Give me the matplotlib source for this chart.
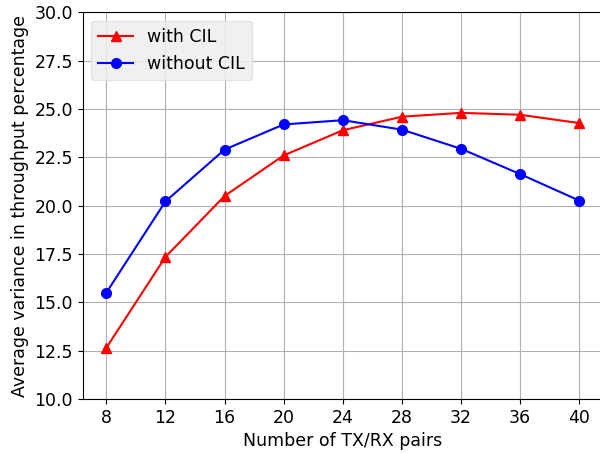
import matplotlib
matplotlib.use("Agg")
import matplotlib.pyplot as plt

pairs = [8, 12, 16, 20, 24, 28, 32, 36, 40]
with_cil = [12.65, 17.35, 20.5, 22.6, 23.9, 24.6, 24.8, 24.7, 24.27]
without_cil = [15.5, 20.22, 22.9, 24.2, 24.42, 23.93, 22.94, 21.63, 20.26]

fig = plt.figure(figsize=(6.0, 4.53), dpi=100)
ax = fig.add_axes([82.7/600, 1-399/453, (603-82.7)/600, (399-12.3)/453])
ax.spines["right"].set_visible(False)

ax.plot(pairs, with_cil, color="red", marker="^", markersize=7, linewidth=1.5, label="with CIL")
ax.plot(pairs, without_cil, color="blue", marker="o", markersize=7, linewidth=1.5, label="without CIL")

ax.set_xticks(pairs)
ax.set_ylim(10, 30)
ax.set_yticks([10 + 2.5*i for i in range(9)])
ax.grid(True)
ax.tick_params(labelsize=12.5)
ax.set_xlabel("Number of TX/RX pairs", fontsize=12.5)
ax.set_ylabel("Average variance in throughput percentage", fontsize=12.5)
leg = ax.legend(loc="upper left", fontsize=12.5, facecolor="#eeeeee",
                edgecolor="#e0e0e0", framealpha=0.85)

fig.savefig("out.png", dpi=100)
